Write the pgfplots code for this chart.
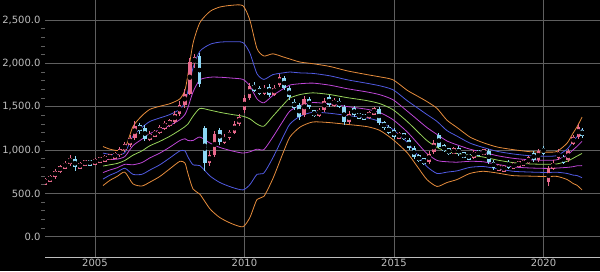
\documentclass[border=0pt]{standalone}
\usepackage{pgfplots}
\pgfplotsset{compat=1.18}
\usepackage{pgfplotstable}
\usepackage{fontspec}
\setmainfont{DejaVu Sans}

\definecolor{gridc}{RGB}{95,95,95}
\definecolor{txtc}{RGB}{190,190,190}
\definecolor{bandO}{RGB}{230,140,60}
\definecolor{bandB}{RGB}{80,90,225}
\definecolor{bandP}{RGB}{190,70,215}
\definecolor{bandG}{RGB}{150,210,90}
\definecolor{upc}{RGB}{232,105,140}
\definecolor{dnc}{RGB}{140,215,245}

\pgfplotstableread{
x u3 u2 u1 m l1 l2 l3
2005.27 1040 965 890 815 740 665 590
2005.50 1010 950 890 830 770 710 650
2005.74 995 945 895 845 795 745 695
2006.00 1015 970 925 880 835 790 745
2006.27 1270 1160 1050 940 830 720 610
2006.57 1395 1260 1125 990 855 720 585
2006.84 1470 1330 1190 1050 910 770 630
2007.17 1505 1370 1235 1100 965 830 695
2007.51 1535 1410 1285 1160 1035 910 785
2007.84 1590 1470 1350 1230 1110 990 870
2008.01 1690 1550 1410 1270 1130 990 850
2008.11 1870 1680 1490 1300 1110 920 730
2008.28 2230 1950 1670 1390 1110 830 550
2008.51 2470 2140 1810 1480 1150 820 490
2008.85 2600 2220 1840 1460 1080 700 320
2009.18 2650 2245 1840 1435 1030 625 220
2009.58 2670 2250 1830 1410 990 570 150
2009.95 2665 2240 1815 1390 965 540 115
2010.18 2500 2120 1740 1360 980 600 220
2010.42 2170 1880 1590 1300 1010 720 430
2010.65 2085 1815 1545 1275 1005 735 465
2010.95 2110 1870 1630 1390 1150 910 670
2011.29 2075 1890 1705 1520 1335 1150 965
2011.52 2050 1900 1750 1600 1450 1300 1150
2011.86 2015 1890 1765 1640 1515 1390 1265
2012.29 1996 1884 1772 1660 1548 1436 1324
2012.86 1964 1856 1748 1640 1532 1424 1316
2013.43 1914 1811 1708 1605 1502 1399 1296
2014.10 1870 1770 1670 1570 1470 1370 1270
2014.53 1844 1741 1638 1535 1432 1329 1226
2014.97 1810 1695 1580 1465 1350 1235 1120
2015.44 1690 1570 1450 1330 1210 1090 970
2015.77 1625 1490 1355 1220 1085 950 815
2016.10 1560 1410 1260 1110 960 810 660
2016.44 1480 1330 1180 1030 880 730 580
2016.77 1345 1225 1105 985 865 745 625
2017.11 1260 1160 1060 960 860 760 660
2017.54 1150 1080 1010 940 870 800 730
2017.98 1085 1030 975 920 865 810 755
2018.45 1035 985 935 885 835 785 735
2018.98 1005 955 905 855 805 755 705
2019.55 981 934 887 840 793 746 699
2020.12 976 929 882 835 788 741 694
2020.45 984 936 888 840 792 744 696
2020.79 1080 1010 940 870 800 730 660
2020.99 1196 1099 1002 905 808 711 614
2021.12 1266 1154 1042 930 818 706 594
2021.29 1380 1240 1100 960 820 680 540
}\bandtab

\pgfplotstableread{
x o h l c
2003.33 620 680 600 650
2003.50 650 715 630 690
2003.67 690 785 670 760
2003.83 760 830 735 800
2004.00 800 875 780 840
2004.17 840 945 820 900
2004.50 800 865 780 840
2004.67 840 890 820 860
2005.00 850 905 835 880
2005.17 880 920 860 890
2005.33 890 940 870 910
2005.50 910 955 890 925
2005.67 925 975 905 945
2005.83 945 1030 925 1000
2006.00 1000 1095 980 1060
2006.17 1060 1175 1040 1140
2006.33 1140 1330 1120 1280
2006.83 1130 1215 1100 1180
2007.00 1180 1235 1150 1200
2007.17 1200 1290 1180 1260
2007.33 1260 1335 1235 1300
2007.50 1300 1355 1270 1320
2007.67 1320 1455 1300 1420
2007.83 1420 1565 1390 1520
2008.00 1520 1700 1490 1650
2008.17 1650 2060 1630 2020
2008.33 2020 2110 1950 2060
2008.83 850 990 820 940
2009.00 940 1215 920 1180
2009.33 1090 1185 1070 1150
2009.50 1150 1235 1120 1200
2009.67 1200 1335 1180 1300
2009.83 1300 1415 1280 1380
2010.00 1460 1635 1430 1600
2010.17 1600 1775 1580 1740
2010.67 1660 1745 1640 1710
2011.00 1640 1755 1620 1720
2011.17 1750 1875 1730 1840
2012.00 1400 1625 1380 1590
2012.50 1405 1490 1385 1460
2012.67 1460 1605 1440 1570
2013.00 1520 1605 1500 1570
2013.50 1320 1455 1300 1420
2014.17 1380 1455 1360 1425
2014.33 1425 1495 1405 1465
2015.17 1155 1205 1135 1175
2016.17 860 990 840 960
2016.33 980 1115 960 1080
2017.00 970 1030 950 1000
2017.67 920 1005 900 975
2018.00 960 1015 940 985
2018.50 780 840 760 810
2018.67 770 830 750 800
2019.00 805 860 785 830
2019.17 830 875 810 845
2019.33 845 885 825 855
2019.50 855 935 835 905
2019.83 885 1015 865 985
2020.17 630 815 590 790
2020.33 790 880 770 850
2020.50 910 1010 890 980
2020.83 880 1015 860 985
2021.00 1080 1175 1060 1140
2021.17 1150 1305 1130 1265
}\candUp

\pgfplotstableread{
x o h l c
2004.33 900 930 760 800
2004.83 860 885 825 850
2006.50 1280 1315 1190 1230
2006.67 1250 1285 1100 1130
2008.50 2085 2115 1730 1760
2008.67 1250 1275 760 850
2009.17 1230 1255 1060 1090
2010.33 1740 1785 1670 1700
2010.50 1700 1735 1630 1660
2010.83 1730 1765 1610 1640
2011.33 1830 1855 1690 1715
2011.50 1715 1735 1580 1610
2011.67 1555 1585 1460 1490
2011.83 1520 1545 1350 1380
2012.17 1590 1615 1470 1500
2012.33 1440 1465 1380 1405
2012.83 1610 1635 1495 1520
2013.17 1570 1595 1480 1500
2013.33 1500 1525 1290 1320
2013.67 1480 1505 1385 1405
2013.83 1405 1430 1365 1390
2014.00 1390 1415 1355 1380
2014.50 1470 1495 1290 1315
2014.67 1315 1340 1235 1260
2014.83 1260 1285 1180 1205
2015.00 1230 1255 1130 1155
2015.33 1175 1200 1115 1140
2015.50 1115 1140 1000 1025
2015.67 1020 1045 900 925
2015.83 925 950 860 885
2016.00 885 910 830 860
2016.50 1175 1200 1020 1040
2016.67 1040 1065 975 1000
2016.83 1000 1025 945 970
2017.17 1020 1045 930 950
2017.33 950 975 905 930
2017.50 930 955 895 920
2017.83 975 1000 935 960
2018.17 985 1010 835 860
2018.33 860 885 775 800
2018.83 860 885 785 805
2019.67 965 990 865 885
2020.00 1020 1045 945 965
2020.67 920 945 840 860
2021.30 1230 1260 1140 1160
}\candDn

\begin{document}
\begin{tikzpicture}[x=1pt,y=1pt]
\fill[black] (-45,-14) rectangle (555,257);
\useasboundingbox (-45,-14) rectangle (555,257);
\begin{axis}[
  at={(0,0)}, anchor=south west,
  scale only axis, width=555pt, height=257pt,
  xmin=2003.33, xmax=2021.89, ymin=-234, ymax=2731,
  axis x line*=bottom, axis y line*=left,
  x axis line style={draw=txtc, -, line width=0.8pt},
  y axis line style={draw=none},
  xtick={2005,2010,2015,2020},
  xticklabels={2005,2010,2015,2020},
  ytick={0,500,1000,1500,2000,2500},
  minor y tick num=4,
  minor x tick num=0,
  tick align=outside,
  major tick length=0pt,
  minor tick length=4pt,
  minor y tick style={gridc, line width=0.6pt},
  grid=major,
  major grid style={gridc, line width=0.6pt},
  ticklabel style={font=\fontsize{10}{12}\selectfont, text=txtc},
  xticklabel style={yshift=1pt},
  yticklabel style={xshift=-1pt,
    /pgf/number format/.cd, fixed, fixed zerofill, precision=1, 1000 sep={,}, assume math mode=true},
  clip=true,
]
\addplot[bandO, line width=0.8pt, smooth, tension=0.4] table[x=x,y=u3] {\bandtab};
\addplot[bandB, line width=0.8pt, smooth, tension=0.4] table[x=x,y=u2] {\bandtab};
\addplot[bandP, line width=0.8pt, smooth, tension=0.4] table[x=x,y=u1] {\bandtab};
\addplot[bandG, line width=0.8pt, smooth, tension=0.4] table[x=x,y=m] {\bandtab};
\addplot[bandP, line width=0.8pt, smooth, tension=0.4] table[x=x,y=l1] {\bandtab};
\addplot[bandB, line width=0.8pt, smooth, tension=0.4] table[x=x,y=l2] {\bandtab};
\addplot[bandO, line width=0.8pt, smooth, tension=0.4] table[x=x,y=l3] {\bandtab};

% wicks
\addplot[only marks, mark=none, error bars/.cd, y dir=both, y explicit, error mark=none,
  error bar style={upc, line width=0.8pt}]
  table[x=x, y expr={(\thisrow{h}+\thisrow{l})/2}, y error expr={(\thisrow{h}-\thisrow{l})/2}] {\candUp};
\addplot[only marks, mark=none, error bars/.cd, y dir=both, y explicit, error mark=none,
  error bar style={dnc, line width=0.8pt}]
  table[x=x, y expr={(\thisrow{h}+\thisrow{l})/2}, y error expr={(\thisrow{h}-\thisrow{l})/2}] {\candDn};
% bodies
\addplot[only marks, mark=none, error bars/.cd, y dir=both, y explicit, error mark=none,
  error bar style={upc, line width=3.8pt}]
  table[x=x, y expr={(\thisrow{o}+\thisrow{c})/2}, y error expr={max(abs(\thisrow{c}-\thisrow{o})/2,35)}] {\candUp};
\addplot[only marks, mark=none, error bars/.cd, y dir=both, y explicit, error mark=none,
  error bar style={dnc, line width=3.8pt}]
  table[x=x, y expr={(\thisrow{o}+\thisrow{c})/2}, y error expr={max(abs(\thisrow{c}-\thisrow{o})/2,35)}] {\candDn};
\end{axis}
\end{tikzpicture}
\end{document}
